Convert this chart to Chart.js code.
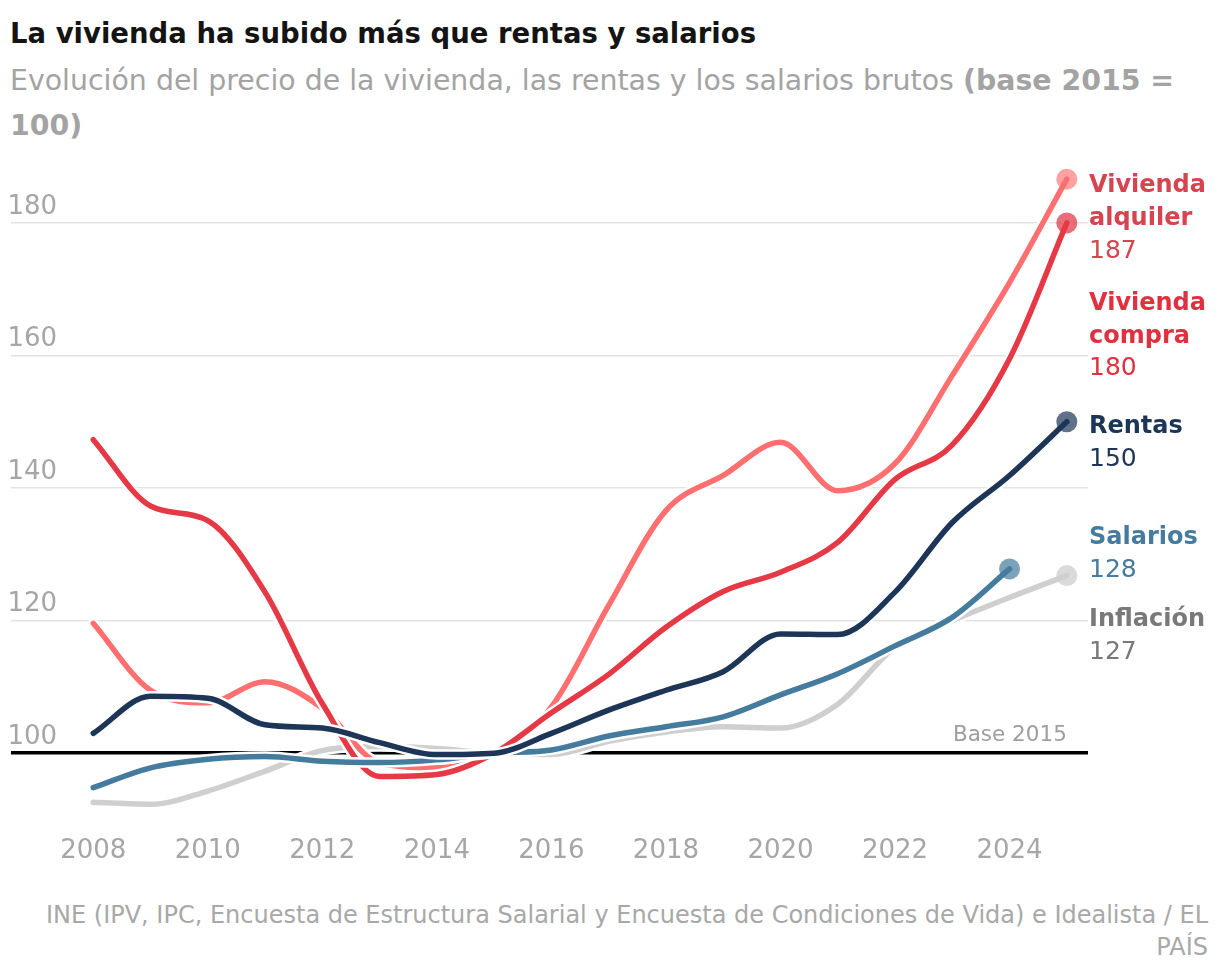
<!DOCTYPE html>
<html>
<head>
<meta charset="utf-8">
<script src="https://cdn.jsdelivr.net/npm/chart.js@4"></script>
<style>
  html, body { margin: 0; padding: 0; background: #fff; }
  body { width: 1220px; height: 980px; position: relative; overflow: hidden; font-family: "DejaVu Sans", sans-serif; }
  #title { position: absolute; left: 10px; top: 14px; font-size: 27.5px; font-weight: 700; color: #141414; white-space: nowrap; line-height: 38px; }
  #subtitle { position: absolute; left: 10px; top: 58px; font-size: 28.4px; color: #a3a3a3; white-space: nowrap; line-height: 45px; }
  #subtitle b { font-weight: 700; }
  #wrap { position: absolute; left: 0; top: 142px; width: 1220px; height: 720px; }
  #footer { position: absolute; right: 12px; top: 899px; font-size: 24px; color: #a8a8a8; text-align: right; line-height: 32px; white-space: nowrap; }
</style>
</head>
<body>
<div id="title">La vivienda ha subido más que rentas y salarios</div>
<div id="subtitle">Evolución del precio de la vivienda, las rentas y los salarios brutos <b>(base 2015 =</b><br><b>100)</b></div>
<div id="wrap"><canvas id="c"></canvas></div>
<div id="footer">INE (IPV, IPC, Encuesta de Estructura Salarial y Encuesta de Condiciones de Vida) e Idealista / EL<br>PAÍS</div>
<script>
// ---- data ----
const years = [2008,2009,2010,2011,2012,2013,2014,2015,2016,2017,2018,2019,2020,2021,2022,2023,2024,2025];
const viviendaAlquiler = [119.6,109.5,107.6,110.8,106.8,98.5,97.8,100,107,122.3,136.6,141.9,146.9,139.6,143.7,157,171,186.6];
const viviendaCompra   = [147.3,137.3,135.1,124.3,107.5,96.5,96.8,100,106.1,111.9,119,124.4,127.3,131.8,141.3,146.5,159.5,180];
const rentas           = [103,108.6,108.3,104.3,103.8,101.6,99.8,100,103,106.5,109.5,112.3,118,117.9,124.3,134.8,141.9,150];
const salarios         = [94.8,97.8,99.1,99.5,98.8,98.6,99,100,100.5,102.6,104,105.5,108.8,112,116.2,120.5,127.8];
const inflacion        = [92.6,92.3,94.3,97.3,100.4,101,100.7,100,99.8,101.8,103.2,104,103.8,107.4,116,120,123.5,126.8];
const yTicks = [100,120,140,160,180];
const xTicks = [2008,2010,2012,2014,2016,2018,2020,2022,2024];

// ---- series styling (drawing order: first = bottom) ----
const series = [
  { key:'Inflación', name:['Inflación'], values: inflacion, color:'#cfcfcf', dot:'rgba(205,205,205,0.75)', label:'#797979', dy: 44 },
  { key:'Vivienda alquiler', name:['Vivienda','alquiler'], values: viviendaAlquiler, color:'#ff6f6f', dot:'rgba(255,111,111,0.65)', label:'#d5444f', dy: 7 },
  { key:'Vivienda compra', name:['Vivienda','compra'], values: viviendaCompra, color:'#e63946', dot:'rgba(222,50,66,0.7)', label:'#e0313f', dy: 81 },
  { key:'Salarios', name:['Salarios'], values: salarios, color:'#457b9d', dot:'rgba(69,123,157,0.7)', label:'#457b9d', dy: -31 },
  { key:'Rentas', name:['Rentas'], values: rentas, color:'#1d3557', dot:'rgba(29,53,87,0.7)', label:'#1d3557', dy: 5 }
];

const FONT = '"DejaVu Sans", sans-serif';
const toPts = vals => vals.map((v,i) => ({x: years[i], y: v}));
const datasets = [];
series.forEach(s => {
  const last = s.values.length - 1;
  datasets.push({
    label: s.key + '_outline', data: toPts(s.values), borderColor: '#ffffff', borderWidth: 10.5,
    cubicInterpolationMode: 'monotone', borderCapStyle: 'round', borderJoinStyle: 'round',
    pointRadius: ctx => ctx.dataIndex === last ? 10.5 : 0,
    pointBackgroundColor: s.dot, pointBorderWidth: 0, pointHoverRadius: 0
  });
  datasets.push({
    label: s.key, data: toPts(s.values), borderColor: s.color, borderWidth: 5.5,
    cubicInterpolationMode: 'monotone', borderCapStyle: 'round', borderJoinStyle: 'round',
    pointRadius: 0, pointHoverRadius: 0
  });
});
// later datasets drawn on top
datasets.forEach((d, i) => { d.order = datasets.length - i; });

const labelsPlugin = {
  id: 'endLabels',
  afterDraw(chart) {
    const {ctx, chartArea, scales} = chart;
    const xs = scales.x, ys = scales.y;
    ctx.save();
    ctx.font = '21.5px ' + FONT;
    ctx.fillStyle = '#9e9e9e';
    ctx.textAlign = 'right';
    ctx.textBaseline = 'middle';
    ctx.fillText('Base 2015', xs.getPixelForValue(2025), ys.getPixelForValue(100) - 18);
    ctx.textAlign = 'left';
    const lh = 32.5;
    series.forEach(s => {
      const endY = ys.getPixelForValue(s.values[s.values.length-1]);
      let y = endY + s.dy;
      const x = chartArea.right + 1;
      ctx.fillStyle = s.label;
      ctx.font = 'bold 24px ' + FONT;
      s.name.forEach(n => { ctx.fillText(n, x, y); y += lh; });
      ctx.font = '25px ' + FONT;
      ctx.fillText(String(Math.round(s.values[s.values.length-1])), x, y);
    });
    ctx.restore();
  }
};

new Chart(document.getElementById('c'), {
  type: 'line',
  data: { datasets },
  options: {
    responsive: true, maintainAspectRatio: false, animation: false,
    layout: { padding: { left: 8, right: 132, top: 5, bottom: 0 } },
    plugins: { legend: { display: false }, tooltip: { enabled: false } },
    events: [],
    scales: {
      x: {
        type: 'linear', min: 2006.555, max: 2025.37,
        afterBuildTicks: sc => { sc.ticks = xTicks.map(v => ({value: v})); },
        grid: { display: false }, border: { display: false },
        ticks: { color: '#a6a6a6', font: { family: FONT, size: 26 }, padding: -5, callback: v => String(v), maxRotation: 0, autoSkip: false }
      },
      y: {
        min: 88, max: 190,
        afterBuildTicks: sc => { sc.ticks = yTicks.map(v => ({value: v})); },
        border: { display: false },
        grid: {
          drawTicks: false,
          color: c => c.tick && c.tick.value === 100 ? '#000000' : '#e3e3e3',
          lineWidth: c => c.tick && c.tick.value === 100 ? 3.5 : 1.5
        },
        ticks: { mirror: true, padding: -1, labelOffset: -16, color: '#a6a6a6', font: { family: FONT, size: 26 }, callback: v => String(v) }
      }
    }
  },
  plugins: [labelsPlugin]
});
</script>
</body>
</html>
